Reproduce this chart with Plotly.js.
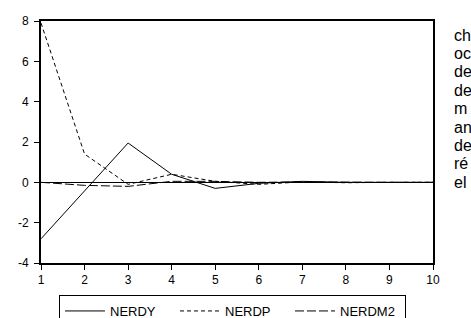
<!DOCTYPE html>
<html>
<head>
<meta charset="utf-8">
<script src="https://cdn.plot.ly/plotly-3.0.1.min.js"></script>
<style>html,body{margin:0;padding:0;background:#fff;}#chart{width:471px;height:318px;}</style>
</head>
<body>
<div id="chart"></div>
<script>
const periods = [1, 2, 3, 4, 5, 6, 7, 8, 9, 10];
const nerdy  = [-2.8, -0.4, 1.95, 0.4, -0.3, -0.05, 0.05, 0.0, 0.0, 0.0];
const nerdp  = [7.9, 1.4, -0.1, 0.4, 0.05, -0.1, 0.02, -0.02, 0.0, 0.0];
const nerdm2 = [0.0, -0.15, -0.2, 0.05, 0.05, 0.0, 0.02, 0.0, 0.0, 0.0];
const seriesNames = ["NERDY", "NERDP", "NERDM2"];
const yTicks = [-4, -2, 0, 2, 4, 6, 8];
const yTickLabels = ["-4", "-2", "0", "2", "4", "6", "8"];
const sideWords = ["ch", "oc", "de", "de", "m", "an", "de", "ré", "el"];

const dashes = ["solid", "4px,3px", "9px,3px"];
const data = [nerdy, nerdp, nerdm2].map((vals, i) => ({
  x: periods, y: vals, type: "scatter", mode: "lines", name: seriesNames[i],
  line: {color: "#000", width: 1, dash: dashes[i]}
}));

const layout = {
  width: 471, height: 318,
  margin: {l: 41, r: 38, t: 21, b: 55, pad: 0},
  paper_bgcolor: "#fff", plot_bgcolor: "#fff",
  font: {family: "Liberation Sans, Arial, sans-serif", size: 12, color: "#000"},
  showlegend: true,
  legend: {
    orientation: "h", xref: "container", yref: "container",
    x: 59 / 471, xanchor: "left", y: (318 - 295) / 318, yanchor: "top",
    bordercolor: "#000", borderwidth: 1, font: {size: 13},
    itemwidth: 40, entrywidth: 60, entrywidthmode: "pixels"
  },
  xaxis: {
    range: [1, 10], tickvals: periods, ticks: "outside", ticklen: 5, tickcolor: "#000",
    showline: true, linecolor: "#000", linewidth: 2, mirror: true, showgrid: false, zeroline: false,
    fixedrange: true
  },
  yaxis: {
    range: [-4, 8], tickvals: yTicks, ticktext: yTickLabels, ticks: "outside", ticklen: 5, tickcolor: "#000",
    ticklabelstandoff: 3,
    showline: true, linecolor: "#000", linewidth: 2, mirror: true, showgrid: false,
    zeroline: true, zerolinecolor: "#000", zerolinewidth: 1, fixedrange: true
  },
  annotations: sideWords.map((w, i) => ({
    text: w, xref: "paper", yref: "paper", x: 1.048, xanchor: "left",
    y: (263 - (35 + i * 18.4)) / 242, yanchor: "middle", showarrow: false,
    font: {size: 16, color: "#000"}
  }))
};

Plotly.newPlot("chart", data, layout, {displayModeBar: false, staticPlot: true});
</script>
</body>
</html>
